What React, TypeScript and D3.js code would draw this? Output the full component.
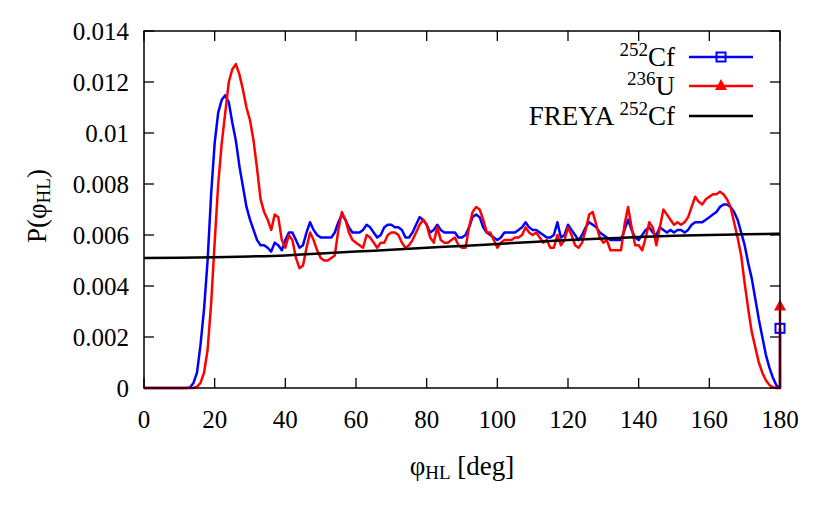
import React from 'react';
import * as d3 from 'd3';

// bin centres in degrees, 1 deg bins
const angles = d3.range(0, 181);

// 252Cf measured distribution
const cfValues = [
  0, 0, 0, 0, 0, 0, 0, 0, 0, 0, 0, 0, 0,
  0.00002, 0.0002, 0.0006, 0.0017, 0.0031, 0.0050, 0.0076, 0.0096, 0.0108, 0.0113, 0.01148, 0.0112,
  0.0104, 0.0097, 0.0087, 0.0079, 0.0071, 0.0066, 0.0062, 0.0058, 0.0056, 0.0056,
  0.0055, 0.00535, 0.0057, 0.0056, 0.0054, 0.0058, 0.0061, 0.0061, 0.0058, 0.0055,
  0.0056, 0.0061, 0.0065, 0.0062, 0.0060, 0.0059, 0.0059, 0.0059, 0.0059, 0.0061,
  0.0065, 0.0068, 0.0066, 0.0063, 0.0061, 0.0061, 0.0061, 0.0062, 0.0064, 0.0063,
  0.0061, 0.0059, 0.0060, 0.0063, 0.0064, 0.0064, 0.0063, 0.0063, 0.0062, 0.0059,
  0.0059, 0.0061, 0.0064, 0.0067, 0.0066, 0.0064, 0.0061, 0.0062, 0.0064, 0.0062,
  0.0061, 0.0061, 0.0061, 0.0061, 0.0059, 0.0059, 0.0060, 0.0063, 0.0067, 0.0068,
  0.0067, 0.0063, 0.0061, 0.0060, 0.0059, 0.0058, 0.0059, 0.0061, 0.0061, 0.0061,
  0.0061, 0.0062, 0.0063, 0.0065, 0.0063, 0.0062, 0.0062, 0.0061, 0.0060, 0.0059,
  0.0059, 0.0060, 0.0065, 0.0059, 0.0060, 0.0064, 0.0062, 0.0060, 0.0058, 0.0060,
  0.0063, 0.0065, 0.0064, 0.0063, 0.0061, 0.0060, 0.0059, 0.0058, 0.0058, 0.0058,
  0.0058, 0.0062, 0.0066, 0.0062, 0.0059, 0.0058, 0.0060, 0.0062, 0.0063, 0.0061,
  0.0060, 0.0063, 0.0062, 0.0061, 0.0062, 0.0061, 0.0062, 0.0062, 0.0061, 0.0062,
  0.0064, 0.0065, 0.0065, 0.0065, 0.0066, 0.0067, 0.0068, 0.0069, 0.0071, 0.0072,
  0.0072, 0.0071, 0.0069, 0.0066, 0.0061, 0.0056, 0.0049, 0.0043, 0.0035, 0.0027,
  0.0020, 0.0013, 0.0008, 0.0004, 0.0001, 0,
];

// 236U measured distribution
const uValues = [
  0, 0, 0, 0, 0, 0, 0, 0, 0, 0, 0, 0, 0, 0, 0,
  0.00005, 0.0002, 0.0006, 0.0015, 0.0033, 0.0057, 0.0080, 0.0096, 0.0108, 0.0120,
  0.0125, 0.0127, 0.0123, 0.0117, 0.0110, 0.0105, 0.0097, 0.0086, 0.0074, 0.0069,
  0.0066, 0.0062, 0.0068, 0.0067, 0.0058, 0.0055, 0.0060, 0.0058, 0.0051, 0.0047,
  0.0048, 0.0055, 0.0061, 0.0058, 0.0054, 0.0051, 0.0050, 0.0050, 0.0051, 0.0052,
  0.0062, 0.0069, 0.0066, 0.0061, 0.0058, 0.0057, 0.0056, 0.0055, 0.0060, 0.0059,
  0.0057, 0.0055, 0.0057, 0.0057, 0.0060, 0.0061, 0.0061, 0.0060, 0.0057, 0.0055,
  0.0056, 0.0058, 0.0061, 0.0064, 0.0066, 0.0064, 0.0059, 0.0057, 0.0063, 0.0058,
  0.0057, 0.0057, 0.0058, 0.0059, 0.0056, 0.0055, 0.0055, 0.0063, 0.0069, 0.0071,
  0.0070, 0.0066, 0.0061, 0.0061, 0.0058, 0.0055, 0.0057, 0.0058, 0.0058, 0.0058,
  0.0059, 0.0059, 0.0060, 0.0063, 0.0061, 0.0060, 0.0061, 0.0059, 0.0057, 0.0058,
  0.0055, 0.0055, 0.0060, 0.0056, 0.0058, 0.0063, 0.0060, 0.0056, 0.0055, 0.0057,
  0.0062, 0.0068, 0.0069, 0.0064, 0.0059, 0.0057, 0.0058, 0.0054, 0.0054, 0.0054,
  0.0054, 0.0064, 0.0071, 0.0063, 0.0056, 0.0056, 0.0054, 0.0059, 0.0065, 0.0063,
  0.0056, 0.0063, 0.0070, 0.0068, 0.0066, 0.0064, 0.0065, 0.0064, 0.0065, 0.0067,
  0.0071, 0.0075, 0.0073, 0.0072, 0.0074, 0.0075, 0.0076, 0.0076, 0.0077, 0.0076,
  0.0074, 0.0071, 0.0065, 0.0059, 0.0052, 0.0041, 0.0031, 0.0022, 0.0016, 0.0010,
  0.0006, 0.0003, 0.00012, 0.00003, 0, 0,
];

// last point at 180 deg (drawn with a marker)
const cfEnd = 0.00234;
const uEnd = 0.0032;

// FREYA calculation, every 10 deg
const freyaAngles = [0, 10, 20, 30, 40, 50, 60, 70, 80, 90, 100, 110, 120, 130, 140, 150, 160, 170, 180];
const freyaValues = [
  0.0051, 0.00511, 0.00513, 0.00516, 0.0052, 0.00527, 0.00535, 0.00542, 0.0055, 0.00557,
  0.00565, 0.00573, 0.0058, 0.00586, 0.00592, 0.00597, 0.006, 0.00603, 0.00605,
];

const xTicks = [0, 20, 40, 60, 80, 100, 120, 140, 160, 180];
const yTicks = [0, 0.002, 0.004, 0.006, 0.008, 0.01, 0.012, 0.014];

const W = 822;
const H = 514;
const margin = { top: 31, right: 42, bottom: 126, left: 144 };
const FONT = '"Liberation Serif", "Times New Roman", serif';

export default function App() {
  const x = d3.scaleLinear().domain([0, 180]).range([margin.left, W - margin.right]);
  const y = d3.scaleLinear().domain([0, 0.014]).range([H - margin.bottom, margin.top]);

  const line = d3.line<[number, number]>().x(d => x(d[0])).y(d => y(d[1]));
  const smooth = d3.line<[number, number]>().x(d => x(d[0])).y(d => y(d[1])).curve(d3.curveNatural);

  const cfPts: [number, number][] = angles.map((a, i) => [a, cfValues[i]]);
  cfPts.push([180, cfEnd]);
  const uPts: [number, number][] = angles.map((a, i) => [a, uValues[i]]);
  uPts.push([180, uEnd]);
  const freyaPts: [number, number][] = freyaAngles.map((a, i) => [a, freyaValues[i]]);

  const x0 = x(0), x1 = x(180), y0 = y(0), y1 = y(0.014);
  const tick = 10;

  const square = (cx: number, cy: number, color: string) => (
    <rect x={cx - 4.5} y={cy - 4.5} width={9} height={9} fill="none" stroke={color} strokeWidth={2} />
  );
  const triangle = (cx: number, cy: number, color: string) => (
    <path d={`M${cx - 6},${cy + 4} L${cx + 6},${cy + 4} L${cx},${cy - 7} Z`} fill={color} />
  );

  const legend = [
    { sup: '252', main: 'Cf', prefix: '', color: '#0000ff', marker: 'square' },
    { sup: '236', main: 'U', prefix: '', color: '#ff0000', marker: 'triangle' },
    { sup: '252', main: 'Cf', prefix: 'FREYA ', color: '#000000', marker: '' },
  ];
  const legendY = [57, 86, 116];

  return (
    <svg width={W} height={H} style={{ position: 'absolute', left: 0, top: 0, background: '#fff' }} fontFamily={FONT}>
      {/* ticks */}
      {xTicks.map(t => (
        <g key={'xt' + t}>
          <line x1={x(t)} x2={x(t)} y1={y0} y2={y0 - tick} stroke="#000" strokeWidth={1.3} />
          <line x1={x(t)} x2={x(t)} y1={y1} y2={y1 + tick} stroke="#000" strokeWidth={1.3} />
          <text x={x(t)} y={428} textAnchor="middle" fontSize={25}>{t}</text>
        </g>
      ))}
      {yTicks.map(t => (
        <g key={'yt' + t}>
          <line x1={x0} x2={x0 + tick} y1={y(t)} y2={y(t)} stroke="#000" strokeWidth={1.3} />
          <line x1={x1} x2={x1 - tick} y1={y(t)} y2={y(t)} stroke="#000" strokeWidth={1.3} />
          <text x={129} y={y(t) + 8.5} textAnchor="end" fontSize={25}>{String(+t.toFixed(3))}</text>
        </g>
      ))}

      {/* curves */}
      <path d={line(cfPts) ?? ''} fill="none" stroke="#0000ff" strokeWidth={2.5} strokeLinejoin="round" />
      <path d={line(uPts) ?? ''} fill="none" stroke="#ff0000" strokeWidth={2.5} strokeLinejoin="round" />
      <path d={smooth(freyaPts) ?? ''} fill="none" stroke="#000" strokeWidth={2.5} />
      {square(x(180), y(cfEnd), '#0000ff')}
      {triangle(x(180), y(uEnd), '#ff0000')}

      {/* frame */}
      <rect x={x0} y={y1} width={x1 - x0} height={y0 - y1} fill="none" stroke="#000" strokeWidth={1.5} />

      {/* legend */}
      {legend.map((d, i) => (
        <g key={'lg' + i}>
          <text x={675} y={legendY[i] + 9} textAnchor="end" fontSize={27}>
            {d.prefix}
            <tspan dy={-10} fontSize={19}>{d.sup}</tspan>
            <tspan dy={10}>{d.main}</tspan>
          </text>
          <line x1={689} x2={753} y1={legendY[i]} y2={legendY[i]} stroke={d.color} strokeWidth={2.5} />
          {d.marker === 'square' && square(721, legendY[i], d.color)}
          {d.marker === 'triangle' && triangle(721, legendY[i], d.color)}
        </g>
      ))}

      {/* axis titles */}
      <text x={462} y={475} textAnchor="middle" fontSize={27}>
        φ<tspan dy={4} fontSize={19}>HL</tspan><tspan dy={-4}> [deg]</tspan>
      </text>
      <text transform="translate(46,206) rotate(-90)" textAnchor="middle" fontSize={27}>
        P(φ<tspan dy={4} fontSize={19}>HL</tspan><tspan dy={-4}>)</tspan>
      </text>
    </svg>
  );
}
